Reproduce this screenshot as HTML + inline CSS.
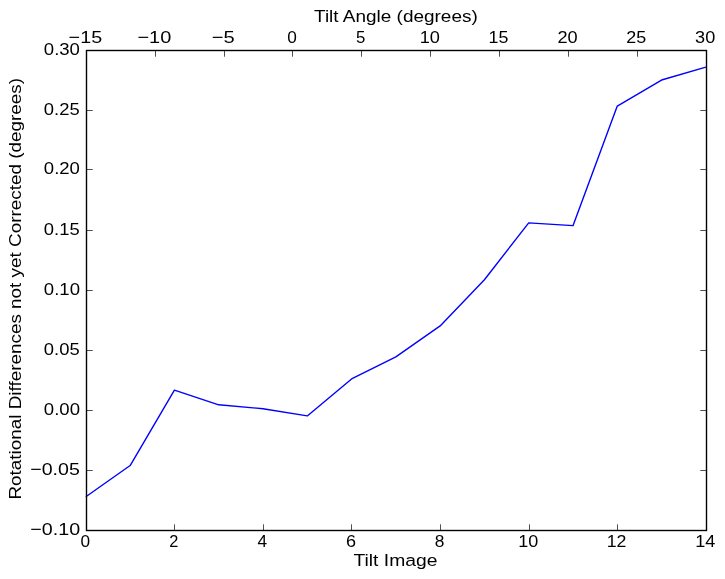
<!DOCTYPE html>
<html><head><meta charset="utf-8"><style>
html,body{margin:0;padding:0;background:#fff;width:725px;height:579px;overflow:hidden}
svg{display:block;will-change:transform}
text{font-family:"Liberation Sans",sans-serif;font-size:17px;fill:#000}
</style></head><body>
<svg width="725" height="579" viewBox="0 0 725 579">
<polyline points="85.85,496.80 130.14,465.54 174.42,390.12 218.71,404.80 262.99,408.70 307.28,415.92 351.56,378.94 395.85,356.83 440.14,325.92 484.42,279.72 528.71,222.92 572.99,225.66 617.28,106.08 661.56,80.04 705.85,67.20" fill="none" stroke="#0000ff" stroke-width="1.39" stroke-linejoin="round" stroke-linecap="butt"/>
<rect x="86.5" y="50.5" width="620" height="480" fill="none" stroke="#000" stroke-width="1.39"/>
<path d="M86.5,50.5h6.2M706.5,50.5h-6.2M86.5,110.5h6.2M706.5,110.5h-6.2M86.5,169.5h6.2M706.5,169.5h-6.2M86.5,230.5h6.2M706.5,230.5h-6.2M86.5,290.5h6.2M706.5,290.5h-6.2M86.5,350.5h6.2M706.5,350.5h-6.2M86.5,410.5h6.2M706.5,410.5h-6.2M86.5,470.5h6.2M706.5,470.5h-6.2M86.5,530.5h6.2M706.5,530.5h-6.2M86.5,530.5v-6.2M174.5,530.5v-6.2M263.5,530.5v-6.2M351.5,530.5v-6.2M440.5,530.5v-6.2M529.5,530.5v-6.2M617.5,530.5v-6.2M706.5,530.5v-6.2M86.5,50.5v6.2M155.5,50.5v6.2M224.5,50.5v6.2M292.5,50.5v6.2M361.5,50.5v6.2M430.5,50.5v6.2M499.5,50.5v6.2M568.5,50.5v6.2M637.5,50.5v6.2M706.5,50.5v6.2" stroke="#000" stroke-width="0.69" fill="none"/>
<text x="0" y="0" transform="translate(43.821,55.000) scale(1.09220,1.00229)">0.30</text>
<text x="0" y="0" transform="translate(43.833,115.000) scale(1.08355,1.00000)">0.25</text>
<text x="0" y="0" transform="translate(43.823,174.000) scale(1.09213,1.00229)">0.20</text>
<text x="0" y="0" transform="translate(43.833,235.000) scale(1.08355,1.00000)">0.15</text>
<text x="0" y="0" transform="translate(43.811,295.000) scale(1.09287,1.00328)">0.10</text>
<text x="0" y="0" transform="translate(43.833,355.000) scale(1.08355,1.00000)">0.05</text>
<text x="0" y="0" transform="translate(43.817,415.000) scale(1.09299,1.00328)">0.00</text>
<text x="0" y="0" transform="translate(30.253,475.000) scale(1.15224,1.00000)">−0.05</text>
<text x="0" y="0" transform="translate(30.241,535.000) scale(1.16038,1.00328)">−0.10</text>
<text x="0" y="0" transform="translate(80.439,547.000) scale(1.01514,1.00460)">0</text>
<text x="0" y="0" transform="translate(169.149,547.000) scale(0.96323,1.00131)">2</text>
<text x="0" y="0" transform="translate(257.623,547.119) scale(1.01317,1.01090)">4</text>
<text x="0" y="0" transform="translate(345.950,547.028) scale(1.06229,1.00691)">6</text>
<text x="0" y="0" transform="translate(434.700,547.008) scale(1.02112,1.00131)">8</text>
<text x="0" y="0" transform="translate(518.143,547.000) scale(1.06074,1.00328)">10</text>
<text x="0" y="0" transform="translate(606.718,547.000) scale(1.04229,1.00033)">12</text>
<text x="0" y="0" transform="translate(695.202,547.000) scale(1.06596,1.00592)">14</text>
<text x="0" y="0" transform="translate(68.609,43.000) scale(1.16242,1.00000)">−15</text>
<text x="0" y="0" transform="translate(137.460,43.000) scale(1.17518,1.00328)">−10</text>
<text x="0" y="0" transform="translate(211.671,43.000) scale(1.18603,1.00000)">−5</text>
<text x="0" y="0" transform="translate(287.215,43.000) scale(1.01514,1.00460)">0</text>
<text x="0" y="0" transform="translate(355.939,43.000) scale(0.98885,1.00000)">5</text>
<text x="0" y="0" transform="translate(419.661,43.000) scale(1.07043,1.00328)">10</text>
<text x="0" y="0" transform="translate(488.516,43.000) scale(1.05235,1.00000)">15</text>
<text x="0" y="0" transform="translate(557.382,43.000) scale(1.06949,1.00131)">20</text>
<text x="0" y="0" transform="translate(626.197,43.000) scale(1.05579,1.00000)">25</text>
<text x="0" y="0" transform="translate(695.124,43.000) scale(1.06614,1.00065)">30</text>
<text x="0" y="0" transform="translate(314.034,22.000) scale(1.11614,1.00000)">Tilt Angle (degrees)</text>
<text x="0" y="0" transform="translate(353.386,566.000) scale(1.13654,1.00000)">Tilt Image</text>
<text x="0" y="0" transform="translate(20.670,499.554) scale(0.92382,1.11151) rotate(-90)">Rotational Differences not yet Corrected (degrees)</text>
</svg>
</body></html>
